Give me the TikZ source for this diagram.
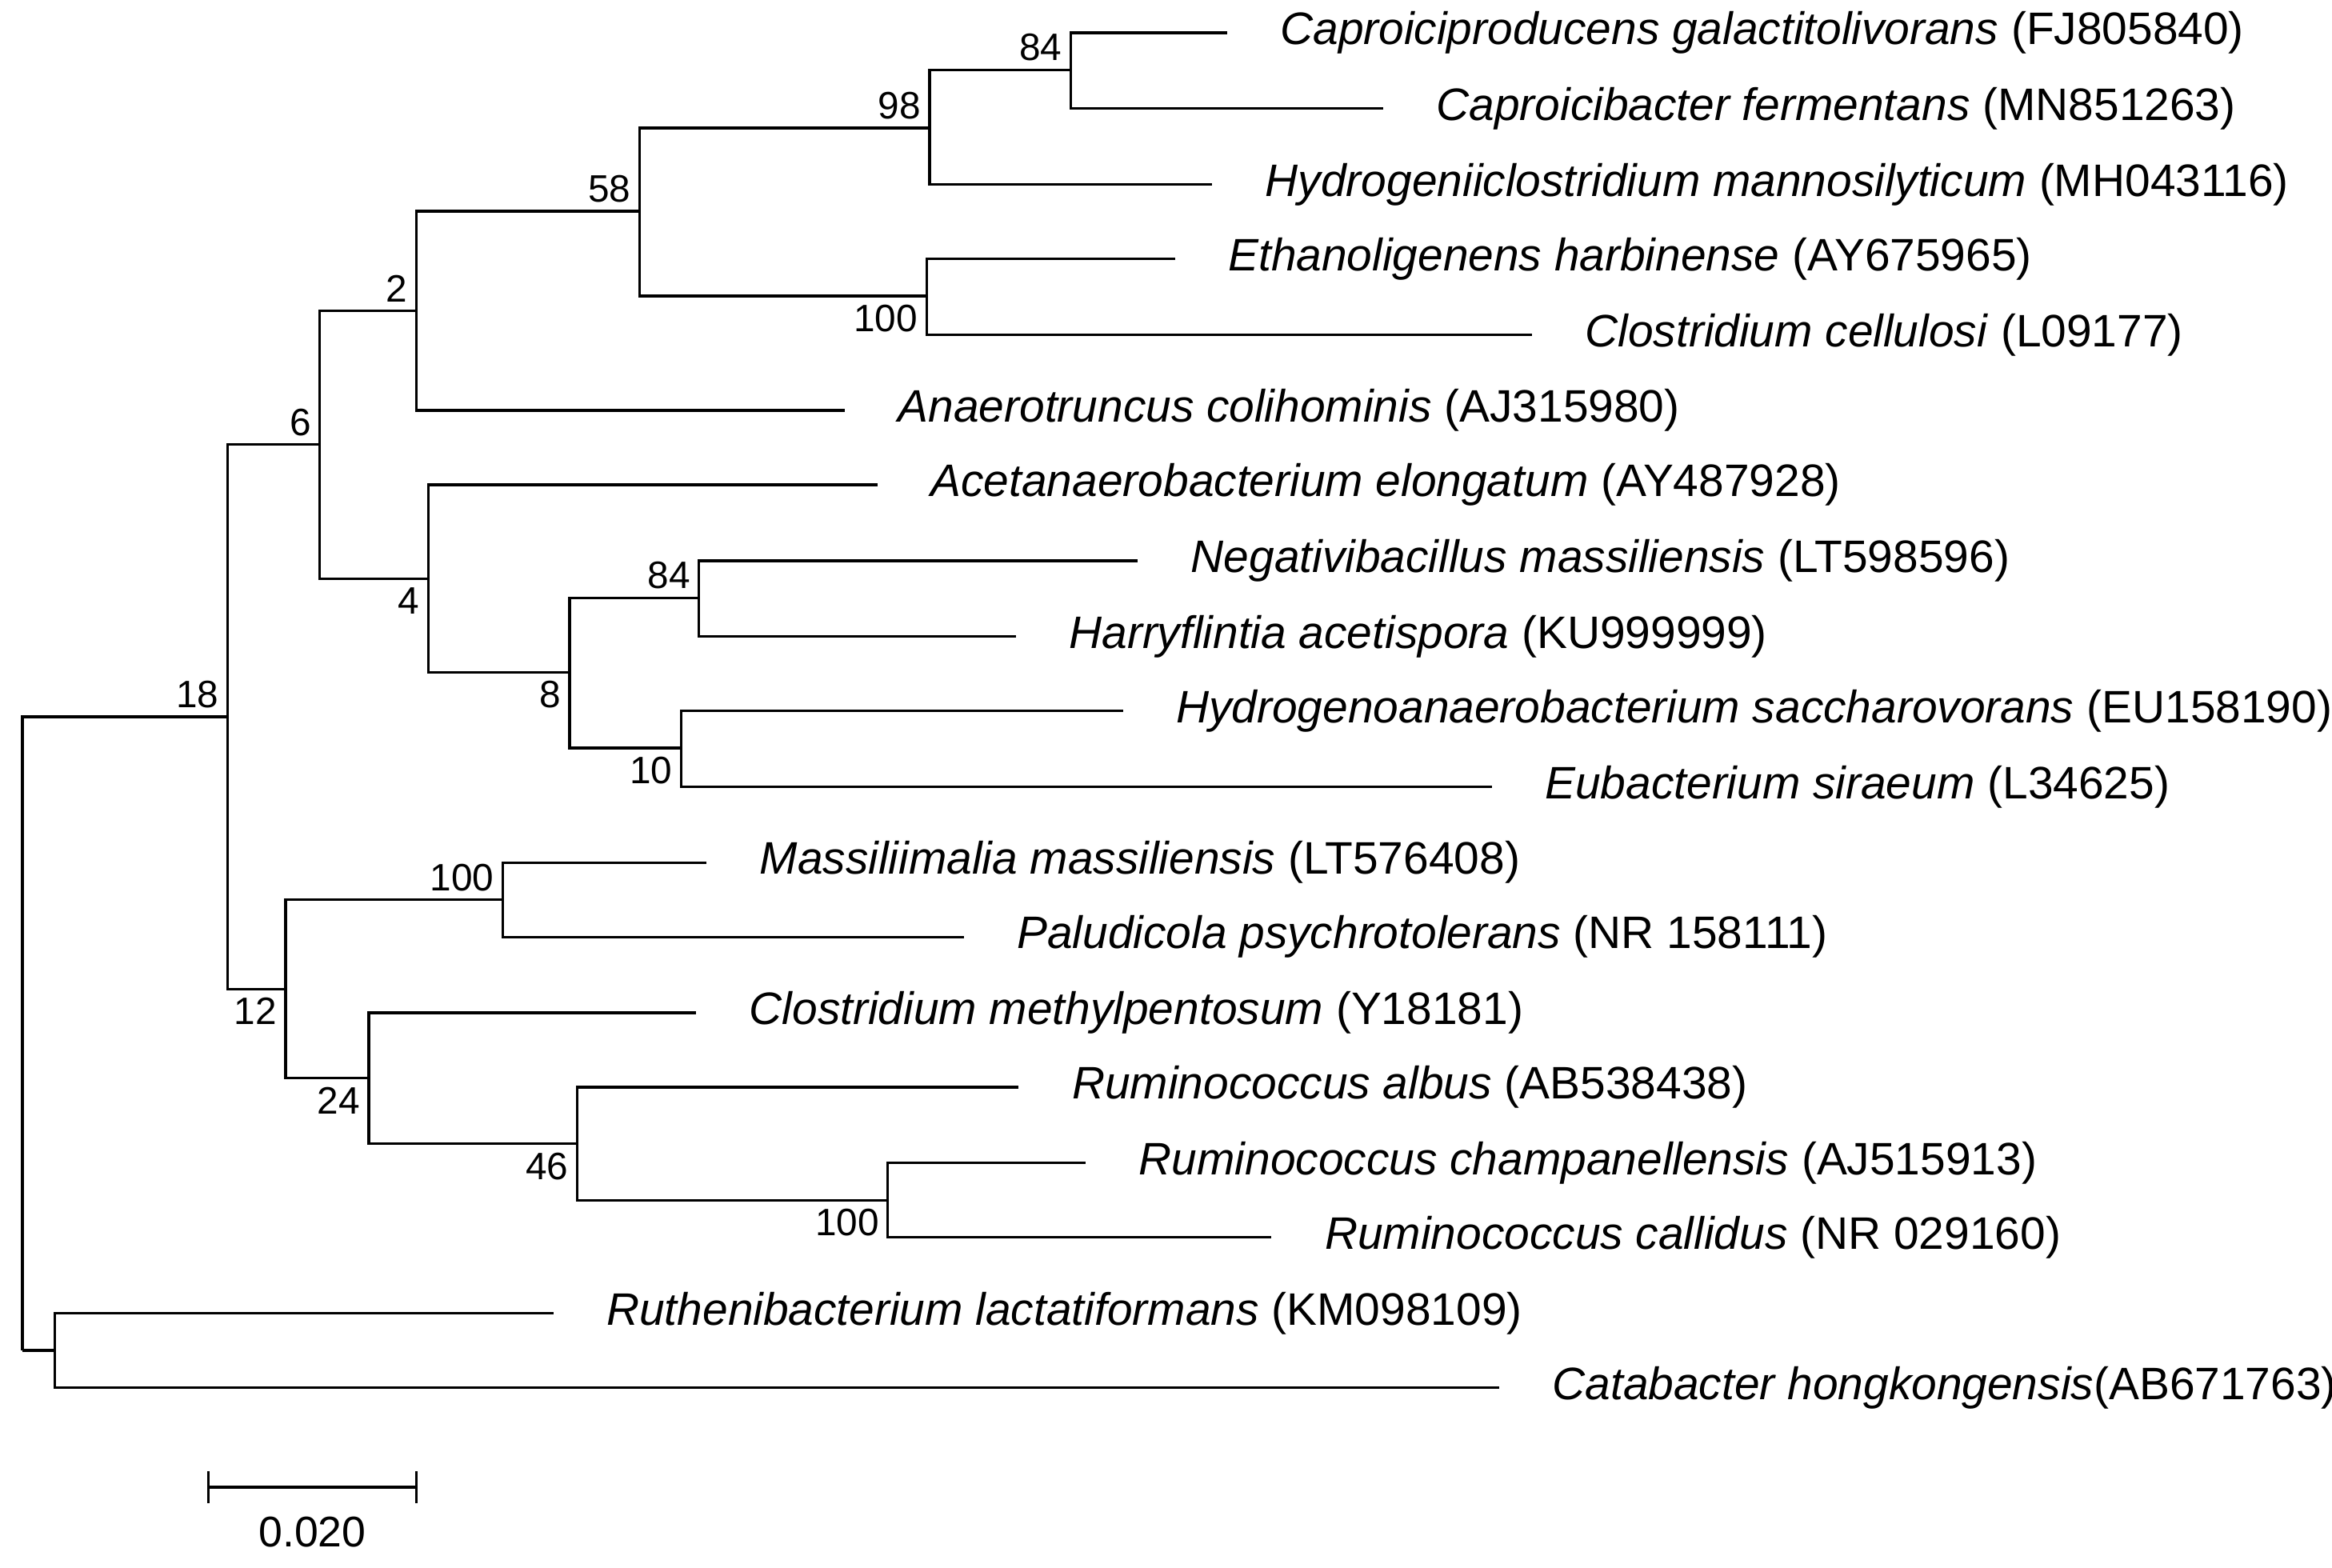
\documentclass[tikz,border=0pt]{standalone}
\usepackage{fontspec}
\setmainfont{Liberation Sans}
\usetikzlibrary{positioning}

\tikzset{
  leaf/.style={anchor=west, inner sep=0pt, xshift=10pt, font=\fontsize{8.7}{10}\selectfont},
  boot/.style={inner sep=1.5pt, font=\fontsize{7.3}{9}\selectfont},
  branch/.style={line width=0.5pt, black}
}

\begin{document}
\begin{tikzpicture}[x=0.01cm, y=-0.01cm]
\useasboundingbox (0,0) rectangle (1568,1054);

% internal nodes
\coordinate (root) at (15,908);
\coordinate (n18) at (153,482);
\coordinate (n6) at (215,299);
\coordinate (n2) at (280,209);
\coordinate (n58) at (430,142);
\coordinate (n98) at (625,86);
\coordinate (n84a) at (720,47);
\coordinate (n100a) at (623,199);
\coordinate (n4) at (288,389);
\coordinate (n8) at (383,452);
\coordinate (n84b) at (470,402);
\coordinate (n10) at (458,503);
\coordinate (n12) at (192,665);
\coordinate (n100b) at (338,605);
\coordinate (n24) at (248,725);
\coordinate (n46) at (388,769);
\coordinate (n100c) at (597,807);
\coordinate (nout) at (37,908);

% leaves
\node[leaf] (l1) at (825,22) {\textit{Caproiciproducens galactitolivorans} (FJ805840)};
\node[leaf] (l2) at (930,73) {\textit{Caproicibacter fermentans} (MN851263)};
\node[leaf] (l3) at (815,124) {\textit{Hydrogeniiclostridium mannosilyticum} (MH043116)};
\node[leaf] (l4) at (790,174) {\textit{Ethanoligenens harbinense} (AY675965)};
\node[leaf] (l5) at (1030,225) {\textit{Clostridium cellulosi} (L09177)};
\node[leaf] (l6) at (568,276) {\textit{Anaerotruncus colihominis} (AJ315980)};
\node[leaf] (l7) at (590,326) {\textit{Acetanaerobacterium elongatum} (AY487928)};
\node[leaf] (l8) at (765,377) {\textit{Negativibacillus massiliensis} (LT598596)};
\node[leaf] (l9) at (683,428) {\textit{Harryflintia acetispora} (KU999999)};
\node[leaf] (l10) at (755,478) {\textit{Hydrogenoanaerobacterium saccharovorans} (EU158190)};
\node[leaf] (l11) at (1003,529) {\textit{Eubacterium siraeum} (L34625)};
\node[leaf] (l12) at (475,580) {\textit{Massiliimalia massiliensis} (LT576408)};
\node[leaf] (l13) at (648,630) {\textit{Paludicola psychrotolerans} (NR 158111)};
\node[leaf] (l14) at (468,681) {\textit{Clostridium methylpentosum} (Y18181)};
\node[leaf] (l15) at (685,731) {\textit{Ruminococcus albus} (AB538438)};
\node[leaf] (l16) at (730,782) {\textit{Ruminococcus champanellensis} (AJ515913)};
\node[leaf] (l17) at (855,832) {\textit{Ruminococcus callidus} (NR 029160)};
\node[leaf] (l18) at (372,883) {\textit{Ruthenibacterium lactatiformans} (KM098109)};
\node[leaf] (l19) at (1008,933) {\textit{Catabacter hongkongensis}(AB671763)};

% branches
\draw[branch] (n84a) |- ([xshift=-10pt]l1.west);
\draw[branch] (n84a) |- ([xshift=-10pt]l2.west);
\draw[branch] (n98) |- (n84a);
\draw[branch] (n98) |- ([xshift=-10pt]l3.west);
\draw[branch] (n100a) |- ([xshift=-10pt]l4.west);
\draw[branch] (n100a) |- ([xshift=-10pt]l5.west);
\draw[branch] (n58) |- (n98);
\draw[branch] (n58) |- (n100a);
\draw[branch] (n2) |- (n58);
\draw[branch] (n2) |- ([xshift=-10pt]l6.west);
\draw[branch] (n84b) |- ([xshift=-10pt]l8.west);
\draw[branch] (n84b) |- ([xshift=-10pt]l9.west);
\draw[branch] (n10) |- ([xshift=-10pt]l10.west);
\draw[branch] (n10) |- ([xshift=-10pt]l11.west);
\draw[branch] (n8) |- (n84b);
\draw[branch] (n8) |- (n10);
\draw[branch] (n4) |- ([xshift=-10pt]l7.west);
\draw[branch] (n4) |- (n8);
\draw[branch] (n6) |- (n2);
\draw[branch] (n6) |- (n4);
\draw[branch] (n100b) |- ([xshift=-10pt]l12.west);
\draw[branch] (n100b) |- ([xshift=-10pt]l13.west);
\draw[branch] (n100c) |- ([xshift=-10pt]l16.west);
\draw[branch] (n100c) |- ([xshift=-10pt]l17.west);
\draw[branch] (n46) |- ([xshift=-10pt]l15.west);
\draw[branch] (n46) |- (n100c);
\draw[branch] (n24) |- ([xshift=-10pt]l14.west);
\draw[branch] (n24) |- (n46);
\draw[branch] (n12) |- (n100b);
\draw[branch] (n12) |- (n24);
\draw[branch] (n18) |- (n6);
\draw[branch] (n18) |- (n12);
\draw[branch] (nout) |- ([xshift=-10pt]l18.west);
\draw[branch] (nout) |- ([xshift=-10pt]l19.west);
\draw[branch] (root) |- (n18);
\draw[branch] (root) |- (nout);

% bootstrap values
\node[boot, anchor=south east] at (n84a) {84};
\node[boot, anchor=south east] at (n98) {98};
\node[boot, anchor=north east] at (n100a) {100};
\node[boot, anchor=south east] at (n58) {58};
\node[boot, anchor=south east] at (n2) {2};
\node[boot, anchor=south east] at (n6) {6};
\node[boot, anchor=north east] at (n4) {4};
\node[boot, anchor=south east] at (n84b) {84};
\node[boot, anchor=north east] at (n8) {8};
\node[boot, anchor=north east] at (n10) {10};
\node[boot, anchor=south east] at (n18) {18};
\node[boot, anchor=south east] at (n100b) {100};
\node[boot, anchor=north east] at (n12) {12};
\node[boot, anchor=north east] at (n24) {24};
\node[boot, anchor=north east] at (n46) {46};
\node[boot, anchor=north east] at (n100c) {100};

% scale bar
\coordinate (sb1) at (140,1000);
\coordinate (sb2) at (280,1000);
\draw[branch] (sb1) -- (sb2);
\draw[branch] ([yshift=-3pt]sb1) -- ([yshift=3pt]sb1);
\draw[branch] ([yshift=-3pt]sb2) -- ([yshift=3pt]sb2);
\node[boot, font=\fontsize{8.2}{10}\selectfont] (sblabel) at (210,1030) {0.020};
\end{tikzpicture}
\end{document}
